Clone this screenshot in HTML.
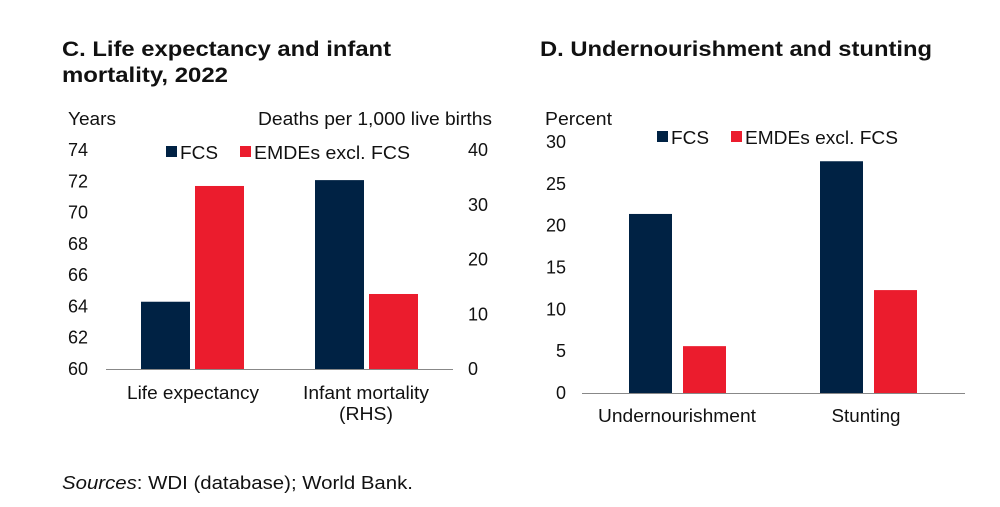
<!DOCTYPE html>
<html><head><meta charset="utf-8"><style>
body{margin:0;background:#fff;width:1000px;height:502px;overflow:hidden;font-family:"Liberation Sans",Arial,sans-serif}
svg text{font-family:"Liberation Sans",Arial,sans-serif;fill:#111}
</style></head><body>
<svg id="c" width="1000" height="502">
<text x="62" y="56" font-size="21" font-weight="bold" textLength="329" lengthAdjust="spacingAndGlyphs">C. Life expectancy and infant</text>
<text x="62" y="82" font-size="21" font-weight="bold" textLength="166" lengthAdjust="spacingAndGlyphs">mortality, 2022</text>
<text x="540" y="56" font-size="21" font-weight="bold" textLength="392" lengthAdjust="spacingAndGlyphs">D. Undernourishment and stunting</text>
<text x="68" y="125" font-size="18" textLength="48" lengthAdjust="spacingAndGlyphs">Years</text>
<text x="258" y="125" font-size="18" textLength="234" lengthAdjust="spacingAndGlyphs">Deaths per 1,000 live births</text>
<text x="545" y="125" font-size="18" textLength="67" lengthAdjust="spacingAndGlyphs">Percent</text>
<g>
<rect x="166" y="146" width="11" height="11" fill="#002244"/><text x="180" y="159" font-size="18" textLength="38" lengthAdjust="spacingAndGlyphs">FCS</text>
<rect x="240" y="146" width="11" height="11" fill="#eb1c2d"/><text x="254" y="159" font-size="18" textLength="156" lengthAdjust="spacingAndGlyphs">EMDEs excl. FCS</text>
</g>
<g>
<rect x="657" y="131" width="11" height="11" fill="#002244"/><text x="671" y="144" font-size="18" textLength="38" lengthAdjust="spacingAndGlyphs">FCS</text>
<rect x="731" y="131" width="11" height="11" fill="#eb1c2d"/><text x="745" y="144" font-size="18" textLength="153" lengthAdjust="spacingAndGlyphs">EMDEs excl. FCS</text>
</g>
<text x="62" y="489" font-size="18" textLength="351" lengthAdjust="spacingAndGlyphs"><tspan font-style="italic">Sources</tspan>: WDI (database); World Bank.</text>
<g id="g"></g>
</svg>
<script>
const cCats=["Life expectancy","Infant mortality|(RHS)"];
const cFCS=[64.3,34.5];
const cEMDE=[71.7,13.7];
const cLeftTicks=[60,62,64,66,68,70,72,74];
const cRightTicks=[0,10,20,30,40];
const dCats=["Undernourishment","Stunting"];
const dFCS=[21.4,27.7];
const dEMDE=[5.6,12.3];
const dTicks=[0,5,10,15,20,25,30];
const NS="http://www.w3.org/2000/svg",g=document.getElementById('g');
function mk(t,a,txt){const e=document.createElementNS(NS,t);for(const k in a)e.setAttribute(k,a[k]);if(txt!=null)e.textContent=txt;g.appendChild(e);return e;}
const cLabelW={"Life expectancy":132,"Infant mortality":126,"(RHS)":54,"Undernourishment":158,"Stunting":69};
// Chart C
const yL=v=>369-(v-60)/14*219, yR=v=>369-v/40*219;
cLeftTicks.forEach(v=>{const t=mk('text',{x:88,y:yL(v)+6,'font-size':18,'text-anchor':'end'},v);

});
cRightTicks.forEach(v=>{const t=mk('text',{x:468,y:yR(v)+6,'font-size':18},v);

});
const cx=[141,315];
const cCenters=[193,366];
cCats.forEach((c,i)=>{const f=i==0?yL:yR,base=i==0?60:0;
const b1=mk('rect',{x:cx[i],y:f(cFCS[i]),width:49,height:f(base)-f(cFCS[i]),fill:'#002244'});


const b2=mk('rect',{x:cx[i]+54,y:f(cEMDE[i]),width:49,height:f(base)-f(cEMDE[i]),fill:'#eb1c2d'});


c.split('|').forEach((s,j)=>{const a={x:cCenters[i],y:399+j*21,'font-size':18,'text-anchor':'middle'};if(cLabelW[s]){a.textLength=cLabelW[s];a.lengthAdjust='spacingAndGlyphs';}
const t=mk('text',a,s);

});});
const a1=mk('line',{x1:106,x2:453,y1:369.5,y2:369.5,stroke:'#888','stroke-width':1});


// Chart D
const yD=v=>393-v/30*251;
dTicks.forEach(v=>{const t=mk('text',{x:566,y:yD(v)+6,'font-size':18,'text-anchor':'end'},v);

});
const dx=[629,820];
const dCenters=[677,866];
dCats.forEach((c,i)=>{
const b1=mk('rect',{x:dx[i],y:yD(dFCS[i]),width:43,height:yD(0)-yD(dFCS[i]),fill:'#002244'});


const b2=mk('rect',{x:dx[i]+54,y:yD(dEMDE[i]),width:43,height:yD(0)-yD(dEMDE[i]),fill:'#eb1c2d'});


const t=mk('text',{x:dCenters[i],y:422,'font-size':18,'text-anchor':'middle',textLength:cLabelW[c],lengthAdjust:'spacingAndGlyphs'},c);

});
const a2=mk('line',{x1:582,x2:965,y1:393.5,y2:393.5,stroke:'#888','stroke-width':1});


</script>
</body></html>
